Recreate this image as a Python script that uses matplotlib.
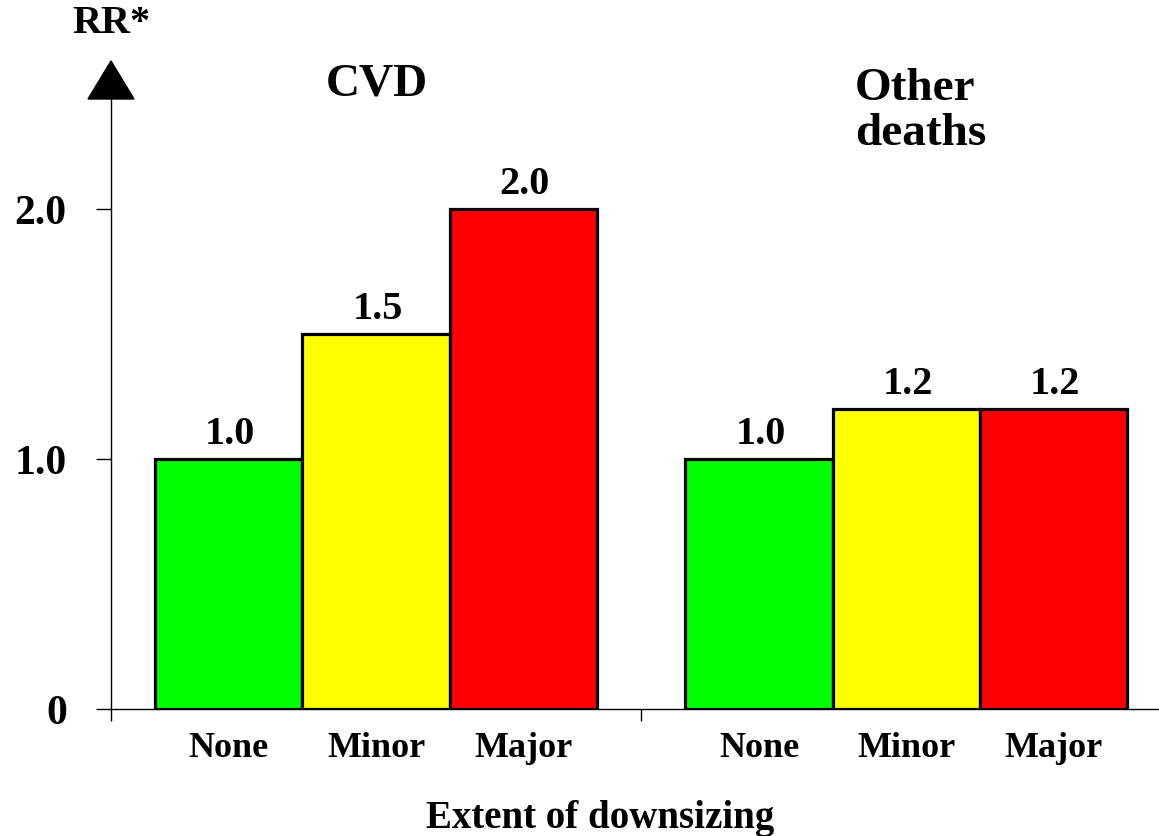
import matplotlib
matplotlib.use("Agg")
import matplotlib.pyplot as plt
from matplotlib.patches import Polygon

plt.rcParams['font.family'] = ['Liberation Serif', 'DejaVu Serif']
plt.rcParams['font.weight'] = 'bold'

# ---- data ----
categories = ["None", "Minor", "Major"]
groups = ["CVD", "Other\ndeaths"]
cvd_values = [1.0, 1.5, 2.0]
other_values = [1.0, 1.2, 1.2]
value_labels_cvd = ["1.0", "1.5", "2.0"]
value_labels_other = ["1.0", "1.2", "1.2"]
colors = ["#00FF00", "#FFFF00", "#FF0000"]
ytick_values = [0, 1.0, 2.0]
ytick_labels = ["0", "1.0", "2.0"]
y_label = "RR*"
x_label = "Extent of downsizing"

W, H = 1159, 837
fig = plt.figure(figsize=(W / 100, H / 100), dpi=100)
ax = fig.add_axes([111 / W, 127 / H, (W - 111) / W, (710 - 100) / H])

cvd_pos = [0, 1, 2]
other_pos = [3.6, 4.6, 5.6]

ax.bar(cvd_pos, cvd_values, width=1.0, color=colors, edgecolor="black", linewidth=2.3, zorder=3)
ax.bar(other_pos, other_values, width=1.0, color=colors, edgecolor="black", linewidth=2.3, zorder=3)

for pos, vals, labs in [(cvd_pos, cvd_values, value_labels_cvd), (other_pos, other_values, value_labels_other)]:
    for x, v, lab in zip(pos, vals, labs):
        ax.annotate(lab, xy=(x, v), xytext=(1, 11.5), textcoords="offset points",
                    ha="center", va="baseline", fontsize=29, fontweight="bold")
    for x, c in zip(pos, categories):
        ax.annotate(c, xy=(x, 0), xycoords=("data", "axes fraction"), xytext=(0, -34),
                    textcoords="offset points", ha="center", va="baseline",
                    fontsize=26, fontweight="bold")

ax.set_xlim(-0.8, 6.315)
ax.set_ylim(0, 2.44)

for s in ["top", "right"]:
    ax.spines[s].set_visible(False)
ax.spines["left"].set_linewidth(1.0)
ax.spines["bottom"].set_linewidth(1.0)

ax.set_yticks(ytick_values)
ax.set_yticklabels(ytick_labels, fontsize=30, fontweight="bold")
ax.tick_params(axis="y", direction="out", length=10.8, width=1.0, pad=21)
ax.set_xticks([-0.8, 2.8])
ax.set_xticklabels(["", ""])
ax.tick_params(axis="x", direction="out", length=8.6, width=1.0)

# group titles
fig.text(377 / W, (837 - 95) / H, groups[0], ha="center", va="baseline",
         fontsize=34, fontweight="bold")
fig.text(855 / W, (837 - 145) / H, groups[1], ha="left", va="baseline",
         fontsize=34, fontweight="bold", linespacing=1.08)

# axis labels
fig.text(111 / W, (837 - 33) / H, y_label, ha="center", va="baseline", fontsize=29, fontweight="bold")
fig.text(600 / W, (837 - 828) / H, x_label, ha="center", va="baseline", fontsize=28, fontweight="bold")

# arrow head on the y axis
tri = Polygon([[111 / W, (837 - 62) / H], [88 / W, (837 - 100) / H], [134 / W, (837 - 100) / H]],
              closed=True, transform=fig.transFigure, facecolor="black", edgecolor="black")
fig.patches.append(tri)

fig.savefig("out.png", dpi=100)
